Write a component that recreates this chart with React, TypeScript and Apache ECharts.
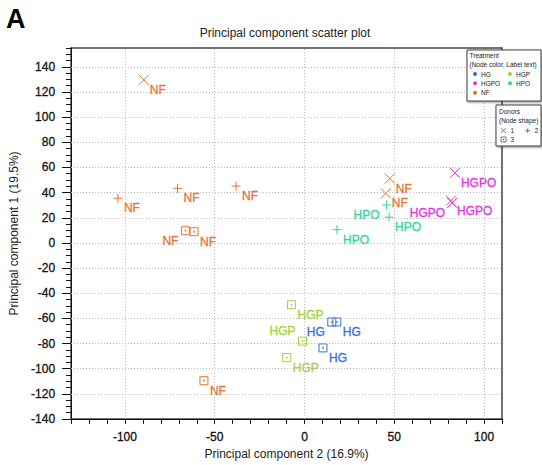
import React, { useEffect, useRef } from 'react';
import * as echarts from 'echarts';

const treatments = ['HG', 'HGP', 'HGPO', 'HPO', 'NF'];
const treatmentColors = ['#2F70E0', '#A2D334', '#E033E0', '#2FD6A3', '#E8722E'];
const donorLabels = ['1', '2', '3'];

// PC2 (x), PC1 (y), donor (node shape), label side
const hgPC2 = [15.2, 18.0, 10.3];
const hgPC1 = [-62.9, -62.9, -83.5];
const hgDonor = [3, 3, 3];
const hgSide = ['L', 'R', 'R'];

const hgpPC2 = [-7.2, -1.1, -9.9];
const hgpPC1 = [-49.2, -78.1, -91.2];
const hgpDonor = [3, 3, 3];
const hgpSide = ['R', 'UL', 'R'];

const hgpoPC2 = [83.8, 81.6, 82.2];
const hgpoPC1 = [55.7, 33.6, 31.8];
const hgpoDonor = [1, 1, 1];
const hgpoSide = ['R', 'R', 'L'];

const hpoPC2 = [45.7, 47.1, 18.1];
const hpoPC1 = [30.2, 20.5, 10.5];
const hpoDonor = [2, 2, 2];
const hpoSide = ['L', 'R', 'R'];

const nfPC2 = [-89.5, -103.9, -70.7, -38.1, -66.3, -61.5, 47.5, 45.3, -56.0];
const nfPC1 = [129.6, 35.5, 43.4, 45.2, 9.7, 8.9, 51.2, 39.4, -109.6];
const nfDonor = [1, 2, 2, 2, 3, 3, 1, 1, 3];
const nfSide = ['R', 'R', 'R', 'R', 'L', 'R', 'R', 'R', 'R'];

const xGrid = [-100, -50, 0, 50, 100];
const yGrid = [-120, -100, -80, -60, -40, -20, 0, 20, 40, 60, 80, 100, 120, 140];
const yMajorTicks = [-140, -120, -100, -80, -60, -40, -20, 0, 20, 40, 60, 80, 100, 120, 140];

const groups = [
  { pc2: hgPC2, pc1: hgPC1, donor: hgDonor, side: hgSide },
  { pc2: hgpPC2, pc1: hgpPC1, donor: hgpDonor, side: hgpSide },
  { pc2: hgpoPC2, pc1: hgpoPC1, donor: hgpoDonor, side: hgpoSide },
  { pc2: hpoPC2, pc1: hpoPC1, donor: hpoDonor, side: hpoSide },
  { pc2: nfPC2, pc1: nfPC1, donor: nfDonor, side: nfSide },
];

const FONT = '"Liberation Sans", Arial, Helvetica, sans-serif';

const symbolFor: Record<number, string> = {
  1: 'path://M0,0L10,10M10,0L0,10',
  2: 'path://M5,0L5,10M0,5L10,5',
  3: 'path://M0,0L10,0L10,10L0,10Z',
};
const sizeFor: Record<number, number> = { 1: 10, 2: 9, 3: 8 };

function sideLabel(s: string) {
  if (s === 'L') return { align: 'right', offset: [-7, 10] };
  if (s === 'UL') return { align: 'right', offset: [-7, -10] };
  return { align: 'left', offset: [6, 10] };
}

function buildOption() {
  const series: any[] = [];
  series.push({
    type: 'scatter',
    data: [],
    silent: true,
    z: 1,
    markLine: {
      silent: true,
      symbol: 'none',
      animation: false,
      label: { show: false },
      lineStyle: { type: [1, 2], color: '#b8b8b8', width: 1 },
      data: [...xGrid.map((v) => ({ xAxis: v })), ...yGrid.map((v) => ({ yAxis: v }))],
    },
  });
  groups.forEach((g, gi) => {
    const c = treatmentColors[gi];
    const name = treatments[gi];
    series.push({
      type: 'scatter',
      name,
      z: 3,
      data: g.pc2.map((x, i) => ({
        value: [x, g.pc1[i]],
        symbol: symbolFor[g.donor[i]],
        symbolSize: sizeFor[g.donor[i]],
        label: sideLabel(g.side[i]),
      })),
      itemStyle: { color: 'none', borderColor: c, borderWidth: 1, opacity: 1 },
      label: {
        show: true,
        position: 'inside',
        verticalAlign: 'middle',
        formatter: name,
        color: c,
        fontSize: 12,
        fontFamily: FONT,
        textBorderColor: c,
        textBorderWidth: 0.3,
      },
      emphasis: { disabled: true },
    });
    const dots = g.pc2
      .map((x, i) => (g.donor[i] === 3 ? [x, g.pc1[i]] : null))
      .filter((d) => d !== null);
    if (dots.length) {
      series.push({
        type: 'scatter',
        z: 4,
        silent: true,
        symbol: 'circle',
        symbolSize: 2,
        itemStyle: { color: c },
        data: dots,
        emphasis: { disabled: true },
      });
    }
  });

  // legend graphics
  const legendFont = { fontSize: 6.5, fontFamily: FONT, fill: '#222' };
  const tBox = { x: 467, y: 50, w: 74, h: 51 };
  const dBox = { x: 496, y: 105, w: 45, h: 41 };
  const legendItems: any[] = [];
  const legendPos = [
    [475, 74],
    [510, 74],
    [475, 83.3],
    [510, 83.3],
    [475, 92.7],
  ];
  treatments.forEach((t, i) => {
    const [lx, ly] = legendPos[i];
    legendItems.push({ type: 'circle', z: 102, shape: { cx: lx, cy: ly, r: 2 }, style: { fill: treatmentColors[i] } });
    legendItems.push({
      type: 'text',
      z: 102,
      x: lx + 6,
      y: ly,
      style: { ...legendFont, text: t, verticalAlign: 'middle' },
    });
  });
  const donorPos = [
    [503.5, 130.7],
    [527.7, 130.7],
    [503.5, 139.5],
  ];
  donorLabels.forEach((d, i) => {
    const [sx, sy] = donorPos[i];
    const st = { stroke: '#555', lineWidth: 0.8, fill: 'none' };
    if (i === 0) {
      legendItems.push({ type: 'line', z: 102, shape: { x1: sx - 2.5, y1: sy - 2.5, x2: sx + 2.5, y2: sy + 2.5 }, style: st });
      legendItems.push({ type: 'line', z: 102, shape: { x1: sx + 2.5, y1: sy - 2.5, x2: sx - 2.5, y2: sy + 2.5 }, style: st });
    } else if (i === 1) {
      legendItems.push({ type: 'line', z: 102, shape: { x1: sx, y1: sy - 2.5, x2: sx, y2: sy + 2.5 }, style: st });
      legendItems.push({ type: 'line', z: 102, shape: { x1: sx - 2.5, y1: sy, x2: sx + 2.5, y2: sy }, style: st });
    } else {
      legendItems.push({ type: 'rect', z: 102, shape: { x: sx - 2.5, y: sy - 2.5, width: 5, height: 5 }, style: st });
      legendItems.push({ type: 'circle', z: 102, shape: { cx: sx, cy: sy, r: 0.6 }, style: { fill: '#555' } });
    }
    legendItems.push({
      type: 'text',
      z: 102,
      x: sx + 7,
      y: sy,
      style: { ...legendFont, text: d, verticalAlign: 'middle' },
    });
  });

  const boxStyle = {
    fill: '#fff',
    stroke: '#444',
    lineWidth: 1,
    shadowBlur: 2,
    shadowOffsetX: 1,
    shadowOffsetY: 1,
    shadowColor: 'rgba(0,0,0,0.45)',
  };

  const axisText = { fontSize: 12, fontFamily: FONT, color: '#111', textBorderColor: '#111', textBorderWidth: 0.3 };

  return {
    animation: false,
    backgroundColor: '#fff',
    grid: {
      left: 69,
      right: 40,
      top: 48,
      bottom: 43,
      show: true,
      borderColor: '#444',
      borderWidth: 1.5,
      backgroundColor: 'transparent',
    },
    xAxis: [
      {
        type: 'value',
        min: -130,
        max: 110,
        interval: 10,
        name: 'Principal component 2 (16.9%)',
        nameLocation: 'middle',
        nameGap: 25,
        nameTextStyle: { fontSize: 12, fontFamily: FONT, color: '#222' },
        axisLine: { show: true, onZero: false, lineStyle: { color: '#111', width: 1 } },
        axisTick: { show: true, length: 5, lineStyle: { color: '#111' } },
        axisLabel: {
          interval: 0,
          margin: 12,
          ...axisText,
          formatter: (v: number) => (v % 50 === 0 ? String(v) : ''),
        },
        splitLine: { show: false },
      },
    ],
    yAxis: [
      {
        type: 'value',
        min: -140,
        max: 155,
        interval: 5,
        position: 'left',
        name: 'Principal component 1 (19.5%)',
        nameLocation: 'middle',
        nameGap: 50,
        nameTextStyle: { fontSize: 12, fontFamily: FONT, color: '#222' },
        axisLine: { show: true, onZero: false, lineStyle: { color: '#111', width: 1 } },
        axisTick: { show: true, length: 5, lineStyle: { color: '#111' } },
        axisLabel: {
          interval: 0,
          margin: 16,
          ...axisText,
          formatter: (v: number) => (v % 20 === 0 ? String(v) : ''),
        },
        splitLine: { show: false },
      },
      {
        type: 'value',
        min: -140,
        max: 155,
        position: 'left',
        offset: 0,
        axisLine: { show: false, onZero: false },
        axisTick: { show: true, length: 9, customValues: yMajorTicks, lineStyle: { color: '#111' } },
        axisLabel: { show: false },
        splitLine: { show: false },
      },
    ],
    series,
    graphic: [
      {
        type: 'text',
        x: 6,
        y: 19,
        style: { text: 'A', fontSize: 27, fontWeight: 'bold', fontFamily: FONT, fill: '#000', verticalAlign: 'middle' },
      },
      {
        type: 'text',
        x: 285,
        y: 33,
        style: {
          text: 'Principal component scatter plot',
          fontSize: 12,
          fontFamily: FONT,
          fill: '#222',
          align: 'center',
          verticalAlign: 'middle',
        },
      },
      { type: 'rect', z: 100, shape: { x: tBox.x, y: tBox.y, width: tBox.w, height: tBox.h }, style: boxStyle },
      { type: 'rect', z: 100, shape: { x: dBox.x, y: dBox.y, width: dBox.w, height: dBox.h }, style: boxStyle },
      {
        type: 'text',
        z: 101,
        x: 469.5,
        y: 55.7,
        style: { ...legendFont, text: 'Treatment', verticalAlign: 'middle' },
      },
      {
        type: 'text',
        z: 101,
        x: 469.5,
        y: 64,
        style: { ...legendFont, text: '(Node color, Label text)', verticalAlign: 'middle' },
      },
      {
        type: 'text',
        z: 101,
        x: 499,
        y: 111.7,
        style: { ...legendFont, text: 'Donors', verticalAlign: 'middle' },
      },
      {
        type: 'text',
        z: 101,
        x: 499,
        y: 120,
        style: { ...legendFont, text: '(Node shape)', verticalAlign: 'middle' },
      },
      ...legendItems,
    ],
  };
}

export default function App() {
  const ref = useRef<HTMLDivElement>(null);
  useEffect(() => {
    if (!ref.current) return;
    const chart = echarts.init(ref.current, undefined, { renderer: 'svg' });
    chart.setOption(buildOption() as any);
    return () => chart.dispose();
  }, []);
  return (
    <div
      ref={ref}
      style={{ position: 'fixed', left: 0, top: 0, width: 542, height: 465, background: '#fff' }}
    />
  );
}
